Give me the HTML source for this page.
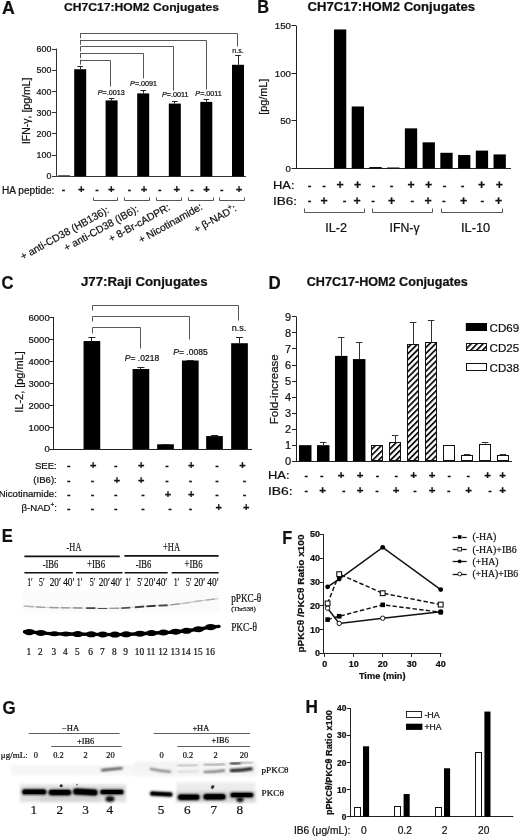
<!DOCTYPE html>
<html lang="en"><head><meta charset="utf-8"><title>Figure</title>
<style>
html,body{margin:0;padding:0;background:#fff}
svg{display:block}
text{stroke:#111;stroke-width:0.22px}
text.s{font-family:"Liberation Sans",Arial,sans-serif}
text.r{font-family:"Liberation Serif","Times New Roman",serif}
</style></head><body>
<svg width="520" height="836" viewBox="0 0 520 836">
<defs>
<pattern id="hatch" patternUnits="userSpaceOnUse" width="4.2" height="4.2" patternTransform="rotate(-45)">
<rect width="4.2" height="4.2" fill="#fff"/><rect y="0" width="4.2" height="1.8" fill="#111"/>
</pattern>
<filter id="b1" x="-20%" y="-100%" width="140%" height="300%"><feGaussianBlur stdDeviation="0.9"/></filter>
<filter id="b2" x="-20%" y="-200%" width="140%" height="500%"><feGaussianBlur stdDeviation="0.6"/></filter>
<filter id="b3" x="-20%" y="-200%" width="140%" height="500%"><feGaussianBlur stdDeviation="1.6"/></filter>
</defs>
<rect width="520" height="836" fill="#fff"/>
<text class="s" x="1.90" y="14.00" font-size="17.5" font-weight="bold" textLength="12.80" lengthAdjust="spacingAndGlyphs" fill="#111" >A</text>
<text class="s" x="64.00" y="10.80" font-size="11.6" font-weight="bold" textLength="155.00" lengthAdjust="spacingAndGlyphs" fill="#111" >CH7C17:HOM2 Conjugates</text>
<line x1="56.50" y1="48.60" x2="56.50" y2="176.80" stroke="#333" stroke-width="1" />
<line x1="56.00" y1="176.50" x2="246.00" y2="176.50" stroke="#333" stroke-width="1" />
<line x1="52.00" y1="176.50" x2="56.00" y2="176.50" stroke="#333" stroke-width="1" />
<text class="s" x="51.40" y="178.60" font-size="8.9" text-anchor="end" fill="#111" >0</text>
<line x1="52.00" y1="155.50" x2="56.00" y2="155.50" stroke="#333" stroke-width="1" />
<text class="s" x="51.40" y="158.20" font-size="8.9" text-anchor="end" fill="#111" >100</text>
<line x1="52.00" y1="133.50" x2="56.00" y2="133.50" stroke="#333" stroke-width="1" />
<text class="s" x="51.40" y="137.00" font-size="8.9" text-anchor="end" fill="#111" >200</text>
<line x1="52.00" y1="112.50" x2="56.00" y2="112.50" stroke="#333" stroke-width="1" />
<text class="s" x="51.40" y="115.80" font-size="8.9" text-anchor="end" fill="#111" >300</text>
<line x1="52.00" y1="91.50" x2="56.00" y2="91.50" stroke="#333" stroke-width="1" />
<text class="s" x="51.40" y="94.60" font-size="8.9" text-anchor="end" fill="#111" >400</text>
<line x1="52.00" y1="70.50" x2="56.00" y2="70.50" stroke="#333" stroke-width="1" />
<text class="s" x="51.40" y="73.40" font-size="8.9" text-anchor="end" fill="#111" >500</text>
<line x1="52.00" y1="49.50" x2="56.00" y2="49.50" stroke="#333" stroke-width="1" />
<text class="s" x="51.40" y="52.20" font-size="8.9" text-anchor="end" fill="#111" >600</text>
<text class="s" x="30.00" y="110.80" font-size="10.7" text-anchor="middle" transform="rotate(-90 30.00 110.80)" textLength="66.50" lengthAdjust="spacingAndGlyphs" fill="#111" >IFN-&#947;, [pg/mL]</text>
<rect x="74.20" y="69.24" width="12.00" height="107.06" fill="#000" />
<line x1="80.50" y1="66.27" x2="80.50" y2="69.24" stroke="#222" stroke-width="1" />
<line x1="77.45" y1="66.50" x2="82.95" y2="66.50" stroke="#222" stroke-width="1" />
<rect x="105.60" y="100.40" width="12.00" height="75.90" fill="#000" />
<line x1="111.50" y1="98.71" x2="111.50" y2="100.40" stroke="#222" stroke-width="1" />
<line x1="108.85" y1="98.50" x2="114.35" y2="98.50" stroke="#222" stroke-width="1" />
<rect x="137.20" y="93.41" width="12.00" height="82.89" fill="#000" />
<line x1="143.50" y1="90.02" x2="143.50" y2="93.41" stroke="#222" stroke-width="1" />
<line x1="140.45" y1="90.50" x2="145.95" y2="90.50" stroke="#222" stroke-width="1" />
<rect x="168.80" y="103.58" width="12.00" height="72.72" fill="#000" />
<line x1="174.50" y1="101.46" x2="174.50" y2="103.58" stroke="#222" stroke-width="1" />
<line x1="172.05" y1="101.50" x2="177.55" y2="101.50" stroke="#222" stroke-width="1" />
<rect x="200.30" y="101.89" width="12.00" height="74.41" fill="#000" />
<line x1="206.50" y1="99.56" x2="206.50" y2="101.89" stroke="#222" stroke-width="1" />
<line x1="203.55" y1="99.50" x2="209.05" y2="99.50" stroke="#222" stroke-width="1" />
<rect x="232.00" y="64.79" width="12.00" height="111.51" fill="#000" />
<line x1="238.50" y1="55.88" x2="238.50" y2="64.79" stroke="#222" stroke-width="1" />
<line x1="235.25" y1="55.50" x2="240.75" y2="55.50" stroke="#222" stroke-width="1" />
<rect x="58.00" y="175.10" width="12.00" height="1.20" fill="#555" />
<line x1="80.50" y1="33.30" x2="80.50" y2="64.80" stroke="#444" stroke-width="0.9" stroke-dasharray="5 1.6"/>
<path d="M80.5 60.5 H110.5 V86.5" fill="none" stroke="#444" stroke-width="0.9" />
<path d="M80.5 53.5 H143.5 V78.5" fill="none" stroke="#444" stroke-width="0.9" />
<path d="M80.5 46.5 H173.5 V90.5" fill="none" stroke="#444" stroke-width="0.9" />
<path d="M80.5 40.5 H206.5 V89.5" fill="none" stroke="#444" stroke-width="0.9" />
<path d="M80.5 33.5 H237.5 V46.5" fill="none" stroke="#444" stroke-width="0.9" />
<text class="s" x="111.30" y="94.80" font-size="7.2" text-anchor="middle" fill="#111"><tspan font-style="italic">P</tspan>=.0013</text>
<text class="s" x="143.60" y="86.20" font-size="7.2" text-anchor="middle" fill="#111"><tspan font-style="italic">P</tspan>=.0091</text>
<text class="s" x="175.20" y="97.00" font-size="7.2" text-anchor="middle" fill="#111"><tspan font-style="italic">P</tspan>=.0011</text>
<text class="s" x="208.60" y="96.00" font-size="7.2" text-anchor="middle" fill="#111"><tspan font-style="italic">P</tspan>=.0011</text>
<text class="s" x="238.00" y="53.20" font-size="7" text-anchor="middle" fill="#222" >n.s.</text>
<text class="s" x="2.00" y="193.50" font-size="10" textLength="52.40" lengthAdjust="spacingAndGlyphs" fill="#111" >HA peptide:</text>
<text class="s" x="63.40" y="193.30" font-size="10.5" text-anchor="middle" font-weight="bold" fill="#111" >-</text>
<text class="s" x="97.10" y="193.30" font-size="10.5" text-anchor="middle" font-weight="bold" fill="#111" >-</text>
<text class="s" x="129.60" y="193.30" font-size="10.5" text-anchor="middle" font-weight="bold" fill="#111" >-</text>
<text class="s" x="159.80" y="193.30" font-size="10.5" text-anchor="middle" font-weight="bold" fill="#111" >-</text>
<text class="s" x="192.10" y="193.30" font-size="10.5" text-anchor="middle" font-weight="bold" fill="#111" >-</text>
<text class="s" x="221.80" y="193.30" font-size="10.5" text-anchor="middle" font-weight="bold" fill="#111" >-</text>
<text class="s" x="81.40" y="193.30" font-size="11.3" text-anchor="middle" font-weight="bold" fill="#111" >+</text>
<text class="s" x="111.30" y="193.30" font-size="11.3" text-anchor="middle" font-weight="bold" fill="#111" >+</text>
<text class="s" x="144.10" y="193.30" font-size="11.3" text-anchor="middle" font-weight="bold" fill="#111" >+</text>
<text class="s" x="176.90" y="193.30" font-size="11.3" text-anchor="middle" font-weight="bold" fill="#111" >+</text>
<text class="s" x="206.60" y="193.30" font-size="11.3" text-anchor="middle" font-weight="bold" fill="#111" >+</text>
<text class="s" x="239.00" y="193.30" font-size="11.3" text-anchor="middle" font-weight="bold" fill="#111" >+</text>
<path d="M93.5 197.5 V200.5 H117.5 V197.5" fill="none" stroke="#444" stroke-width="0.9" />
<path d="M124.5 197.5 V200.5 H149.5 V197.5" fill="none" stroke="#444" stroke-width="0.9" />
<path d="M156.5 197.5 V200.5 H181.5 V197.5" fill="none" stroke="#444" stroke-width="0.9" />
<path d="M188.5 197.5 V200.5 H213.5 V197.5" fill="none" stroke="#444" stroke-width="0.9" />
<path d="M219.5 197.5 V200.5 H244.5 V197.5" fill="none" stroke="#444" stroke-width="0.9" />
<text class="s" x="109.70" y="212.20" font-size="10.3" text-anchor="end" transform="rotate(-29 109.70 212.20)" fill="#111" >+ anti-CD38 (HB136):</text>
<text class="s" x="139.20" y="211.20" font-size="10.3" text-anchor="end" transform="rotate(-29 139.20 211.20)" fill="#111" >+ anti-CD38 (IB6):</text>
<text class="s" x="170.80" y="209.40" font-size="10.3" text-anchor="end" transform="rotate(-29 170.80 209.40)" fill="#111" >+ 8-Br-cADPR:</text>
<text class="s" x="203.30" y="208.90" font-size="10.3" text-anchor="end" transform="rotate(-29 203.30 208.90)" fill="#111" >+ Nicotinamide:</text>
<text class="s" x="237.30" y="210.40" font-size="10.3" text-anchor="end" fill="#111" transform="rotate(-29 237.3 210.4)">+ &#946;-NAD<tspan font-size="7" dy="-4.4">+</tspan><tspan dy="4.4">:</tspan></text>
<text class="s" x="257.20" y="12.50" font-size="17.5" font-weight="bold" textLength="11.80" lengthAdjust="spacingAndGlyphs" fill="#111" >B</text>
<text class="s" x="307.50" y="10.50" font-size="12.5" font-weight="bold" textLength="167.50" lengthAdjust="spacingAndGlyphs" fill="#111" >CH7C17:HOM2 Conjugates</text>
<line x1="296.50" y1="25.60" x2="296.50" y2="168.80" stroke="#222" stroke-width="1" />
<line x1="295.50" y1="168.50" x2="511.00" y2="168.50" stroke="#222" stroke-width="1" />
<line x1="291.50" y1="168.50" x2="296.00" y2="168.50" stroke="#222" stroke-width="1" />
<text class="s" x="291.00" y="171.80" font-size="9.7" text-anchor="end" fill="#111" >0</text>
<line x1="291.50" y1="120.50" x2="296.00" y2="120.50" stroke="#222" stroke-width="1" />
<text class="s" x="291.00" y="124.25" font-size="9.7" text-anchor="end" fill="#111" >50</text>
<line x1="291.50" y1="73.50" x2="296.00" y2="73.50" stroke="#222" stroke-width="1" />
<text class="s" x="291.00" y="76.70" font-size="9.7" text-anchor="end" fill="#111" >100</text>
<line x1="291.50" y1="25.50" x2="296.00" y2="25.50" stroke="#222" stroke-width="1" />
<text class="s" x="291.00" y="29.15" font-size="9.7" text-anchor="end" fill="#111" >150</text>
<text class="s" x="267.20" y="96.70" font-size="10.5" text-anchor="middle" transform="rotate(-90 267.20 96.70)" textLength="36.00" lengthAdjust="spacingAndGlyphs" fill="#111" >[pg/mL]</text>
<rect x="333.96" y="29.45" width="12.30" height="138.85" fill="#000" />
<rect x="351.69" y="106.49" width="12.30" height="61.81" fill="#000" />
<rect x="369.42" y="167.06" width="12.30" height="1.24" fill="#000" />
<rect x="387.15" y="167.50" width="12.30" height="0.80" fill="#000" />
<rect x="404.88" y="128.36" width="12.30" height="39.94" fill="#000" />
<rect x="422.61" y="142.34" width="12.30" height="25.96" fill="#000" />
<rect x="440.34" y="152.80" width="12.30" height="15.50" fill="#000" />
<rect x="458.07" y="154.99" width="12.30" height="13.31" fill="#000" />
<rect x="475.80" y="150.61" width="12.30" height="17.69" fill="#000" />
<rect x="493.53" y="154.42" width="12.30" height="13.88" fill="#000" />
<text class="s" x="273.00" y="189.00" font-size="11.5" textLength="21.50" lengthAdjust="spacingAndGlyphs" fill="#111" >HA:</text>
<text class="s" x="273.00" y="204.50" font-size="11.5" textLength="24.00" lengthAdjust="spacingAndGlyphs" fill="#111" >IB6:</text>
<text class="s" x="309.50" y="188.80" font-size="11" text-anchor="middle" font-weight="bold" fill="#111" >-</text>
<text class="s" x="309.50" y="204.20" font-size="11" text-anchor="middle" font-weight="bold" fill="#111" >-</text>
<text class="s" x="324.20" y="188.80" font-size="11" text-anchor="middle" font-weight="bold" fill="#111" >-</text>
<text class="s" x="324.20" y="204.60" font-size="12.3" text-anchor="middle" font-weight="bold" fill="#111" >+</text>
<text class="s" x="340.00" y="189.20" font-size="12.3" text-anchor="middle" font-weight="bold" fill="#111" >+</text>
<text class="s" x="344.50" y="204.20" font-size="11" text-anchor="middle" font-weight="bold" fill="#111" >-</text>
<text class="s" x="357.50" y="189.20" font-size="12.3" text-anchor="middle" font-weight="bold" fill="#111" >+</text>
<text class="s" x="357.00" y="204.60" font-size="12.3" text-anchor="middle" font-weight="bold" fill="#111" >+</text>
<text class="s" x="373.70" y="188.80" font-size="11" text-anchor="middle" font-weight="bold" fill="#111" >-</text>
<text class="s" x="373.20" y="204.20" font-size="11" text-anchor="middle" font-weight="bold" fill="#111" >-</text>
<text class="s" x="391.60" y="188.80" font-size="11" text-anchor="middle" font-weight="bold" fill="#111" >-</text>
<text class="s" x="391.60" y="204.60" font-size="12.3" text-anchor="middle" font-weight="bold" fill="#111" >+</text>
<text class="s" x="411.00" y="189.20" font-size="12.3" text-anchor="middle" font-weight="bold" fill="#111" >+</text>
<text class="s" x="412.30" y="204.20" font-size="11" text-anchor="middle" font-weight="bold" fill="#111" >-</text>
<text class="s" x="428.50" y="189.20" font-size="12.3" text-anchor="middle" font-weight="bold" fill="#111" >+</text>
<text class="s" x="428.00" y="204.60" font-size="12.3" text-anchor="middle" font-weight="bold" fill="#111" >+</text>
<text class="s" x="444.60" y="188.80" font-size="11" text-anchor="middle" font-weight="bold" fill="#111" >-</text>
<text class="s" x="443.80" y="204.20" font-size="11" text-anchor="middle" font-weight="bold" fill="#111" >-</text>
<text class="s" x="462.70" y="188.80" font-size="11" text-anchor="middle" font-weight="bold" fill="#111" >-</text>
<text class="s" x="463.50" y="204.60" font-size="12.3" text-anchor="middle" font-weight="bold" fill="#111" >+</text>
<text class="s" x="481.50" y="189.20" font-size="12.3" text-anchor="middle" font-weight="bold" fill="#111" >+</text>
<text class="s" x="482.30" y="204.20" font-size="11" text-anchor="middle" font-weight="bold" fill="#111" >-</text>
<text class="s" x="499.30" y="189.20" font-size="12.3" text-anchor="middle" font-weight="bold" fill="#111" >+</text>
<text class="s" x="498.70" y="204.60" font-size="12.3" text-anchor="middle" font-weight="bold" fill="#111" >+</text>
<path d="M304.5 208.5 V212.5 H364.5 V208.5" fill="none" stroke="#444" stroke-width="0.9" />
<path d="M372.5 208.5 V212.5 H432.5 V208.5" fill="none" stroke="#444" stroke-width="0.9" />
<path d="M441.5 208.5 V212.5 H502.5 V208.5" fill="none" stroke="#444" stroke-width="0.9" />
<text class="s" x="336.20" y="232.00" font-size="12" text-anchor="middle" textLength="21.70" lengthAdjust="spacingAndGlyphs" fill="#111" >IL-2</text>
<text class="s" x="404.60" y="232.00" font-size="12" text-anchor="middle" textLength="30.00" lengthAdjust="spacingAndGlyphs" fill="#111" >IFN-&#947;</text>
<text class="s" x="475.60" y="232.00" font-size="12" text-anchor="middle" textLength="29.20" lengthAdjust="spacingAndGlyphs" fill="#111" >IL-10</text>
<text class="s" x="1.60" y="289.00" font-size="17.5" font-weight="bold" textLength="12.00" lengthAdjust="spacingAndGlyphs" fill="#111" >C</text>
<text class="s" x="81.00" y="286.00" font-size="12" font-weight="bold" textLength="126.50" lengthAdjust="spacingAndGlyphs" fill="#111" >J77:Raji Conjugates</text>
<line x1="53.50" y1="317.00" x2="53.50" y2="449.50" stroke="#222" stroke-width="1" />
<line x1="52.50" y1="449.50" x2="252.00" y2="449.50" stroke="#222" stroke-width="1" />
<line x1="49.50" y1="449.50" x2="53.00" y2="449.50" stroke="#222" stroke-width="1" />
<text class="s" x="49.70" y="452.40" font-size="9.6" text-anchor="end" textLength="5.30" lengthAdjust="spacingAndGlyphs" fill="#111" >0</text>
<line x1="49.50" y1="427.50" x2="53.00" y2="427.50" stroke="#222" stroke-width="1" />
<text class="s" x="49.70" y="430.50" font-size="9.6" text-anchor="end" textLength="21.20" lengthAdjust="spacingAndGlyphs" fill="#111" >1000</text>
<line x1="49.50" y1="405.50" x2="53.00" y2="405.50" stroke="#222" stroke-width="1" />
<text class="s" x="49.70" y="408.60" font-size="9.6" text-anchor="end" textLength="21.20" lengthAdjust="spacingAndGlyphs" fill="#111" >2000</text>
<line x1="49.50" y1="383.50" x2="53.00" y2="383.50" stroke="#222" stroke-width="1" />
<text class="s" x="49.70" y="386.70" font-size="9.6" text-anchor="end" textLength="21.20" lengthAdjust="spacingAndGlyphs" fill="#111" >3000</text>
<line x1="49.50" y1="361.50" x2="53.00" y2="361.50" stroke="#222" stroke-width="1" />
<text class="s" x="49.70" y="364.80" font-size="9.6" text-anchor="end" textLength="21.20" lengthAdjust="spacingAndGlyphs" fill="#111" >4000</text>
<line x1="49.50" y1="339.50" x2="53.00" y2="339.50" stroke="#222" stroke-width="1" />
<text class="s" x="49.70" y="342.90" font-size="9.6" text-anchor="end" textLength="21.20" lengthAdjust="spacingAndGlyphs" fill="#111" >5000</text>
<line x1="49.50" y1="317.50" x2="53.00" y2="317.50" stroke="#222" stroke-width="1" />
<text class="s" x="49.70" y="321.00" font-size="9.6" text-anchor="end" textLength="21.20" lengthAdjust="spacingAndGlyphs" fill="#111" >6000</text>
<text class="s" x="23.20" y="382.00" font-size="11" text-anchor="middle" transform="rotate(-90 23.20 382.00)" textLength="61.50" lengthAdjust="spacingAndGlyphs" fill="#111" >IL-2, [pg/mL]</text>
<rect x="83.55" y="341.03" width="16.70" height="107.97" fill="#000" />
<line x1="91.50" y1="337.42" x2="91.50" y2="341.03" stroke="#222" stroke-width="1" />
<line x1="88.40" y1="337.50" x2="95.40" y2="337.50" stroke="#222" stroke-width="1" />
<rect x="132.55" y="369.06" width="16.70" height="79.94" fill="#000" />
<line x1="140.50" y1="367.53" x2="140.50" y2="369.06" stroke="#222" stroke-width="1" />
<line x1="137.40" y1="367.50" x2="144.40" y2="367.50" stroke="#222" stroke-width="1" />
<rect x="157.15" y="444.29" width="16.70" height="4.71" fill="#000" />
<line x1="165.50" y1="444.07" x2="165.50" y2="444.29" stroke="#222" stroke-width="1" />
<line x1="162.00" y1="444.50" x2="169.00" y2="444.50" stroke="#222" stroke-width="1" />
<rect x="181.95" y="360.52" width="16.70" height="88.48" fill="#000" />
<line x1="190.50" y1="360.09" x2="190.50" y2="360.52" stroke="#222" stroke-width="1" />
<line x1="186.80" y1="360.50" x2="193.80" y2="360.50" stroke="#222" stroke-width="1" />
<rect x="206.15" y="436.08" width="16.70" height="12.92" fill="#000" />
<line x1="214.50" y1="435.53" x2="214.50" y2="436.08" stroke="#222" stroke-width="1" />
<line x1="211.00" y1="435.50" x2="218.00" y2="435.50" stroke="#222" stroke-width="1" />
<rect x="231.15" y="343.22" width="16.70" height="105.78" fill="#000" />
<line x1="239.50" y1="337.75" x2="239.50" y2="343.22" stroke="#222" stroke-width="1" />
<line x1="236.00" y1="337.50" x2="243.00" y2="337.50" stroke="#222" stroke-width="1" />
<path d="M92.5 333.5 V327.5 H140.5 V348.5" fill="none" stroke="#444" stroke-width="0.9" />
<path d="M92.5 321.5 V316.5 H189.5 V339.5" fill="none" stroke="#444" stroke-width="0.9" />
<path d="M92.5 310.5 V305.5 H238.5 V320.5" fill="none" stroke="#444" stroke-width="0.9" />
<text class="s" x="142.00" y="361.00" font-size="8.5" text-anchor="middle" fill="#111"><tspan font-style="italic">P</tspan>= .0218</text>
<text class="s" x="190.50" y="355.00" font-size="8.5" text-anchor="middle" fill="#111"><tspan font-style="italic">P</tspan>= .0085</text>
<text class="s" x="239.00" y="331.00" font-size="9" text-anchor="middle" fill="#222" >n.s.</text>
<text class="s" x="56.80" y="468.60" font-size="9.6" text-anchor="end" fill="#111" >SEE:</text>
<text class="s" x="68.70" y="469.20" font-size="10.5" text-anchor="middle" font-weight="bold" fill="#111" >-</text>
<text class="s" x="93.20" y="468.80" font-size="11" text-anchor="middle" font-weight="bold" fill="#111" >+</text>
<text class="s" x="115.70" y="469.20" font-size="10.5" text-anchor="middle" font-weight="bold" fill="#111" >-</text>
<text class="s" x="141.20" y="468.80" font-size="11" text-anchor="middle" font-weight="bold" fill="#111" >+</text>
<text class="s" x="167.00" y="469.20" font-size="10.5" text-anchor="middle" font-weight="bold" fill="#111" >-</text>
<text class="s" x="191.20" y="468.80" font-size="11" text-anchor="middle" font-weight="bold" fill="#111" >+</text>
<text class="s" x="217.00" y="469.20" font-size="10.5" text-anchor="middle" font-weight="bold" fill="#111" >-</text>
<text class="s" x="242.50" y="468.80" font-size="11" text-anchor="middle" font-weight="bold" fill="#111" >+</text>
<text class="s" x="56.80" y="483.40" font-size="9.6" text-anchor="end" fill="#111" >(IB6):</text>
<text class="s" x="68.70" y="484.00" font-size="10.5" text-anchor="middle" font-weight="bold" fill="#111" >-</text>
<text class="s" x="92.50" y="484.00" font-size="10.5" text-anchor="middle" font-weight="bold" fill="#111" >-</text>
<text class="s" x="117.00" y="483.60" font-size="11" text-anchor="middle" font-weight="bold" fill="#111" >+</text>
<text class="s" x="141.20" y="483.60" font-size="11" text-anchor="middle" font-weight="bold" fill="#111" >+</text>
<text class="s" x="167.00" y="484.00" font-size="10.5" text-anchor="middle" font-weight="bold" fill="#111" >-</text>
<text class="s" x="190.50" y="484.00" font-size="10.5" text-anchor="middle" font-weight="bold" fill="#111" >-</text>
<text class="s" x="217.00" y="484.00" font-size="10.5" text-anchor="middle" font-weight="bold" fill="#111" >-</text>
<text class="s" x="244.50" y="484.00" font-size="10.5" text-anchor="middle" font-weight="bold" fill="#111" >-</text>
<text class="s" x="56.80" y="497.30" font-size="9.6" text-anchor="end" fill="#111" >Nicotinamide:</text>
<text class="s" x="68.70" y="497.90" font-size="10.5" text-anchor="middle" font-weight="bold" fill="#111" >-</text>
<text class="s" x="92.50" y="497.90" font-size="10.5" text-anchor="middle" font-weight="bold" fill="#111" >-</text>
<text class="s" x="115.70" y="497.90" font-size="10.5" text-anchor="middle" font-weight="bold" fill="#111" >-</text>
<text class="s" x="143.00" y="497.90" font-size="10.5" text-anchor="middle" font-weight="bold" fill="#111" >-</text>
<text class="s" x="168.00" y="497.50" font-size="11" text-anchor="middle" font-weight="bold" fill="#111" >+</text>
<text class="s" x="191.20" y="497.50" font-size="11" text-anchor="middle" font-weight="bold" fill="#111" >+</text>
<text class="s" x="217.00" y="497.90" font-size="10.5" text-anchor="middle" font-weight="bold" fill="#111" >-</text>
<text class="s" x="244.50" y="497.90" font-size="10.5" text-anchor="middle" font-weight="bold" fill="#111" >-</text>
<text class="s" x="57.00" y="511.20" font-size="9.6" text-anchor="end" fill="#111">&#946;-NAD<tspan font-size="6.5" dy="-4">+</tspan><tspan dy="4">:</tspan></text>
<text class="s" x="68.70" y="511.80" font-size="10.5" text-anchor="middle" font-weight="bold" fill="#111" >-</text>
<text class="s" x="92.50" y="511.80" font-size="10.5" text-anchor="middle" font-weight="bold" fill="#111" >-</text>
<text class="s" x="115.70" y="511.80" font-size="10.5" text-anchor="middle" font-weight="bold" fill="#111" >-</text>
<text class="s" x="143.00" y="511.80" font-size="10.5" text-anchor="middle" font-weight="bold" fill="#111" >-</text>
<text class="s" x="170.00" y="511.80" font-size="10.5" text-anchor="middle" font-weight="bold" fill="#111" >-</text>
<text class="s" x="190.50" y="511.80" font-size="10.5" text-anchor="middle" font-weight="bold" fill="#111" >-</text>
<text class="s" x="218.70" y="511.40" font-size="11" text-anchor="middle" font-weight="bold" fill="#111" >+</text>
<text class="s" x="246.20" y="511.40" font-size="11" text-anchor="middle" font-weight="bold" fill="#111" >+</text>
<text class="s" x="268.60" y="289.30" font-size="17.5" font-weight="bold" textLength="12.20" lengthAdjust="spacingAndGlyphs" fill="#111" >D</text>
<text class="s" x="306.70" y="286.00" font-size="12.3" font-weight="bold" textLength="161.00" lengthAdjust="spacingAndGlyphs" fill="#111" >CH7C17-HOM2 Conjugates</text>
<line x1="296.50" y1="316.40" x2="296.50" y2="461.70" stroke="#222" stroke-width="1" />
<line x1="295.50" y1="461.50" x2="512.00" y2="461.50" stroke="#222" stroke-width="1" />
<line x1="292.00" y1="461.50" x2="296.00" y2="461.50" stroke="#222" stroke-width="1" />
<text class="s" x="291.20" y="465.00" font-size="11" text-anchor="end" fill="#111" >0</text>
<line x1="292.00" y1="445.50" x2="296.00" y2="445.50" stroke="#222" stroke-width="1" />
<text class="s" x="291.20" y="448.97" font-size="11" text-anchor="end" fill="#111" >1</text>
<line x1="292.00" y1="429.50" x2="296.00" y2="429.50" stroke="#222" stroke-width="1" />
<text class="s" x="291.20" y="432.94" font-size="11" text-anchor="end" fill="#111" >2</text>
<line x1="292.00" y1="413.50" x2="296.00" y2="413.50" stroke="#222" stroke-width="1" />
<text class="s" x="291.20" y="416.91" font-size="11" text-anchor="end" fill="#111" >3</text>
<line x1="292.00" y1="397.50" x2="296.00" y2="397.50" stroke="#222" stroke-width="1" />
<text class="s" x="291.20" y="400.88" font-size="11" text-anchor="end" fill="#111" >4</text>
<line x1="292.00" y1="381.50" x2="296.00" y2="381.50" stroke="#222" stroke-width="1" />
<text class="s" x="291.20" y="384.85" font-size="11" text-anchor="end" fill="#111" >5</text>
<line x1="292.00" y1="365.50" x2="296.00" y2="365.50" stroke="#222" stroke-width="1" />
<text class="s" x="291.20" y="368.82" font-size="11" text-anchor="end" fill="#111" >6</text>
<line x1="292.00" y1="348.50" x2="296.00" y2="348.50" stroke="#222" stroke-width="1" />
<text class="s" x="291.20" y="352.79" font-size="11" text-anchor="end" fill="#111" >7</text>
<line x1="292.00" y1="332.50" x2="296.00" y2="332.50" stroke="#222" stroke-width="1" />
<text class="s" x="291.20" y="336.76" font-size="11" text-anchor="end" fill="#111" >8</text>
<line x1="292.00" y1="316.50" x2="296.00" y2="316.50" stroke="#222" stroke-width="1" />
<text class="s" x="291.20" y="320.73" font-size="11" text-anchor="end" fill="#111" >9</text>
<text class="s" x="278.30" y="389.20" font-size="11.5" text-anchor="middle" transform="rotate(-90 278.30 389.20)" textLength="70.00" lengthAdjust="spacingAndGlyphs" fill="#111" >Fold-increase</text>
<rect x="299.00" y="445.17" width="12.50" height="16.03" fill="#000" />
<rect x="316.98" y="445.17" width="12.50" height="16.03" fill="#000" />
<line x1="323.50" y1="442.61" x2="323.50" y2="445.17" stroke="#333" stroke-width="1" />
<line x1="319.98" y1="442.50" x2="326.48" y2="442.50" stroke="#333" stroke-width="1" />
<rect x="334.96" y="355.88" width="12.50" height="105.32" fill="#000" />
<line x1="341.50" y1="337.45" x2="341.50" y2="355.88" stroke="#333" stroke-width="1" />
<line x1="337.96" y1="337.50" x2="344.46" y2="337.50" stroke="#333" stroke-width="1" />
<rect x="352.94" y="359.09" width="12.50" height="102.11" fill="#000" />
<line x1="359.50" y1="342.26" x2="359.50" y2="359.09" stroke="#333" stroke-width="1" />
<line x1="355.94" y1="342.50" x2="362.44" y2="342.50" stroke="#333" stroke-width="1" />
<rect x="371.50" y="445.50" width="11.00" height="15.00" fill="url(#hatch)" stroke="#111" stroke-width="1" />
<rect x="389.50" y="442.50" width="11.00" height="18.00" fill="url(#hatch)" stroke="#111" stroke-width="1" />
<line x1="395.50" y1="435.71" x2="395.50" y2="442.44" stroke="#333" stroke-width="1" />
<line x1="391.90" y1="435.50" x2="398.40" y2="435.50" stroke="#333" stroke-width="1" />
<rect x="407.50" y="344.50" width="11.00" height="116.00" fill="url(#hatch)" stroke="#111" stroke-width="1" />
<line x1="413.50" y1="322.38" x2="413.50" y2="344.02" stroke="#333" stroke-width="1" />
<line x1="409.88" y1="322.50" x2="416.38" y2="322.50" stroke="#333" stroke-width="1" />
<rect x="425.50" y="342.50" width="11.00" height="118.00" fill="url(#hatch)" stroke="#111" stroke-width="1" />
<line x1="431.50" y1="320.62" x2="431.50" y2="342.26" stroke="#333" stroke-width="1" />
<line x1="427.86" y1="320.50" x2="434.36" y2="320.50" stroke="#333" stroke-width="1" />
<rect x="443.50" y="445.50" width="11.00" height="15.00" fill="#fff" stroke="#111" stroke-width="1" />
<rect x="461.50" y="455.50" width="11.00" height="5.00" fill="#fff" stroke="#111" stroke-width="1" />
<line x1="467.50" y1="454.79" x2="467.50" y2="455.43" stroke="#333" stroke-width="1" />
<line x1="463.82" y1="454.50" x2="470.32" y2="454.50" stroke="#333" stroke-width="1" />
<rect x="479.50" y="444.50" width="11.00" height="16.00" fill="#fff" stroke="#111" stroke-width="1" />
<line x1="485.50" y1="442.77" x2="485.50" y2="443.57" stroke="#333" stroke-width="1" />
<line x1="481.80" y1="442.50" x2="488.30" y2="442.50" stroke="#333" stroke-width="1" />
<rect x="497.50" y="455.50" width="11.00" height="5.00" fill="#fff" stroke="#111" stroke-width="1" />
<line x1="503.50" y1="454.79" x2="503.50" y2="455.43" stroke="#333" stroke-width="1" />
<line x1="499.78" y1="454.50" x2="506.28" y2="454.50" stroke="#333" stroke-width="1" />
<text class="s" x="268.00" y="479.00" font-size="11.3" textLength="21.50" lengthAdjust="spacingAndGlyphs" fill="#111" >HA:</text>
<text class="s" x="268.00" y="494.60" font-size="11.3" textLength="24.70" lengthAdjust="spacingAndGlyphs" fill="#111" >IB6:</text>
<text class="s" x="306.20" y="479.40" font-size="10.5" text-anchor="middle" font-weight="bold" fill="#111" >-</text>
<text class="s" x="306.20" y="494.40" font-size="10.5" text-anchor="middle" font-weight="bold" fill="#111" >-</text>
<text class="s" x="321.70" y="479.40" font-size="10.5" text-anchor="middle" font-weight="bold" fill="#111" >-</text>
<text class="s" x="322.50" y="494.40" font-size="11.5" text-anchor="middle" font-weight="bold" fill="#111" >+</text>
<text class="s" x="341.20" y="479.40" font-size="11.5" text-anchor="middle" font-weight="bold" fill="#111" >+</text>
<text class="s" x="343.70" y="494.40" font-size="10.5" text-anchor="middle" font-weight="bold" fill="#111" >-</text>
<text class="s" x="360.00" y="479.40" font-size="11.5" text-anchor="middle" font-weight="bold" fill="#111" >+</text>
<text class="s" x="360.00" y="494.40" font-size="11.5" text-anchor="middle" font-weight="bold" fill="#111" >+</text>
<text class="s" x="377.50" y="479.40" font-size="10.5" text-anchor="middle" font-weight="bold" fill="#111" >-</text>
<text class="s" x="377.00" y="494.40" font-size="10.5" text-anchor="middle" font-weight="bold" fill="#111" >-</text>
<text class="s" x="396.20" y="479.40" font-size="10.5" text-anchor="middle" font-weight="bold" fill="#111" >-</text>
<text class="s" x="396.20" y="494.40" font-size="11.5" text-anchor="middle" font-weight="bold" fill="#111" >+</text>
<text class="s" x="413.70" y="479.40" font-size="11.5" text-anchor="middle" font-weight="bold" fill="#111" >+</text>
<text class="s" x="415.00" y="494.40" font-size="10.5" text-anchor="middle" font-weight="bold" fill="#111" >-</text>
<text class="s" x="432.00" y="479.40" font-size="11.5" text-anchor="middle" font-weight="bold" fill="#111" >+</text>
<text class="s" x="432.00" y="494.40" font-size="11.5" text-anchor="middle" font-weight="bold" fill="#111" >+</text>
<text class="s" x="449.20" y="479.40" font-size="10.5" text-anchor="middle" font-weight="bold" fill="#111" >-</text>
<text class="s" x="448.70" y="494.40" font-size="10.5" text-anchor="middle" font-weight="bold" fill="#111" >-</text>
<text class="s" x="468.20" y="479.40" font-size="10.5" text-anchor="middle" font-weight="bold" fill="#111" >-</text>
<text class="s" x="468.70" y="494.40" font-size="11.5" text-anchor="middle" font-weight="bold" fill="#111" >+</text>
<text class="s" x="487.50" y="479.40" font-size="11.5" text-anchor="middle" font-weight="bold" fill="#111" >+</text>
<text class="s" x="490.00" y="494.40" font-size="10.5" text-anchor="middle" font-weight="bold" fill="#111" >-</text>
<text class="s" x="502.50" y="479.40" font-size="11.5" text-anchor="middle" font-weight="bold" fill="#111" >+</text>
<text class="s" x="502.50" y="494.40" font-size="11.5" text-anchor="middle" font-weight="bold" fill="#111" >+</text>
<rect x="465.80" y="323.00" width="21.20" height="8.00" fill="#000" />
<rect x="466.50" y="343.50" width="20.00" height="7.00" fill="url(#hatch)" stroke="#111" stroke-width="1" />
<rect x="466.50" y="363.50" width="20.00" height="7.00" fill="#fff" stroke="#111" stroke-width="1" />
<text class="s" x="489.60" y="331.60" font-size="11.3" textLength="29.50" lengthAdjust="spacingAndGlyphs" fill="#111" >CD69</text>
<text class="s" x="489.60" y="351.60" font-size="11.3" textLength="29.50" lengthAdjust="spacingAndGlyphs" fill="#111" >CD25</text>
<text class="s" x="489.60" y="372.40" font-size="11.3" textLength="29.50" lengthAdjust="spacingAndGlyphs" fill="#111" >CD38</text>
<text class="s" x="1.80" y="541.50" font-size="17.5" font-weight="bold" textLength="11.00" lengthAdjust="spacingAndGlyphs" fill="#111" >E</text>
<text class="r" x="74.00" y="550.50" font-size="11.5" text-anchor="middle" textLength="14.80" lengthAdjust="spacingAndGlyphs" fill="#111" >-HA</text>
<text class="r" x="171.50" y="550.50" font-size="11.5" text-anchor="middle" textLength="17.00" lengthAdjust="spacingAndGlyphs" fill="#111" >+HA</text>
<line x1="24.40" y1="556.30" x2="119.80" y2="556.30" stroke="#111" stroke-width="1.7" />
<line x1="124.40" y1="555.90" x2="218.60" y2="555.90" stroke="#111" stroke-width="1.7" />
<text class="r" x="50.50" y="568.30" font-size="11.5" text-anchor="middle" textLength="15.60" lengthAdjust="spacingAndGlyphs" fill="#111" >-IB6</text>
<text class="r" x="96.00" y="568.30" font-size="11.5" text-anchor="middle" textLength="18.00" lengthAdjust="spacingAndGlyphs" fill="#111" >+IB6</text>
<text class="r" x="143.50" y="568.30" font-size="11.5" text-anchor="middle" textLength="15.60" lengthAdjust="spacingAndGlyphs" fill="#111" >-IB6</text>
<text class="r" x="193.50" y="568.30" font-size="11.5" text-anchor="middle" textLength="18.00" lengthAdjust="spacingAndGlyphs" fill="#111" >+IB6</text>
<line x1="24.40" y1="572.80" x2="72.80" y2="572.80" stroke="#111" stroke-width="1.6" />
<line x1="76.00" y1="572.80" x2="122.50" y2="572.80" stroke="#111" stroke-width="1.6" />
<line x1="124.60" y1="572.80" x2="167.70" y2="572.80" stroke="#111" stroke-width="1.6" />
<line x1="171.70" y1="572.80" x2="218.60" y2="572.80" stroke="#111" stroke-width="1.6" />
<text class="r" x="30.00" y="586.00" font-size="12.4" text-anchor="middle" textLength="5.60" lengthAdjust="spacingAndGlyphs" fill="#111" >1&#8242;</text>
<text class="r" x="41.80" y="586.00" font-size="12.4" text-anchor="middle" textLength="5.60" lengthAdjust="spacingAndGlyphs" fill="#111" >5&#8242;</text>
<text class="r" x="55.40" y="586.00" font-size="12.4" text-anchor="middle" textLength="11.40" lengthAdjust="spacingAndGlyphs" fill="#111" >20&#8242;</text>
<text class="r" x="68.90" y="586.00" font-size="12.4" text-anchor="middle" textLength="11.40" lengthAdjust="spacingAndGlyphs" fill="#111" >40&#8242;</text>
<text class="r" x="79.60" y="586.00" font-size="12.4" text-anchor="middle" textLength="5.60" lengthAdjust="spacingAndGlyphs" fill="#111" >1&#8242;</text>
<text class="r" x="92.50" y="586.00" font-size="12.4" text-anchor="middle" textLength="5.60" lengthAdjust="spacingAndGlyphs" fill="#111" >5&#8242;</text>
<text class="r" x="104.40" y="586.00" font-size="12.4" text-anchor="middle" textLength="11.40" lengthAdjust="spacingAndGlyphs" fill="#111" >20&#8242;</text>
<text class="r" x="116.40" y="586.00" font-size="12.4" text-anchor="middle" textLength="11.40" lengthAdjust="spacingAndGlyphs" fill="#111" >40&#8242;</text>
<text class="r" x="128.00" y="586.00" font-size="12.4" text-anchor="middle" textLength="5.60" lengthAdjust="spacingAndGlyphs" fill="#111" >1&#8242;</text>
<text class="r" x="140.00" y="586.00" font-size="12.4" text-anchor="middle" textLength="5.60" lengthAdjust="spacingAndGlyphs" fill="#111" >5&#8242;</text>
<text class="r" x="149.80" y="586.00" font-size="12.4" text-anchor="middle" textLength="11.40" lengthAdjust="spacingAndGlyphs" fill="#111" >20&#8242;</text>
<text class="r" x="161.70" y="586.00" font-size="12.4" text-anchor="middle" textLength="11.40" lengthAdjust="spacingAndGlyphs" fill="#111" >40&#8242;</text>
<text class="r" x="176.50" y="586.00" font-size="12.4" text-anchor="middle" textLength="5.60" lengthAdjust="spacingAndGlyphs" fill="#111" >1&#8242;</text>
<text class="r" x="188.70" y="586.00" font-size="12.4" text-anchor="middle" textLength="5.60" lengthAdjust="spacingAndGlyphs" fill="#111" >5&#8242;</text>
<text class="r" x="199.60" y="586.00" font-size="12.4" text-anchor="middle" textLength="11.40" lengthAdjust="spacingAndGlyphs" fill="#111" >20&#8242;</text>
<text class="r" x="213.00" y="586.00" font-size="12.4" text-anchor="middle" textLength="11.40" lengthAdjust="spacingAndGlyphs" fill="#111" >40&#8242;</text>
<rect x="23.00" y="591.00" width="196.00" height="22.00" fill="#fafafa" filter="url(#b3)"/>
<path d="M23.0 606.0 L40.0 607.2 L60.0 607.8 L80.0 608.0 L100.0 608.2 L112.0 608.4 L125.0 608.0 L140.0 606.8 L155.0 605.8 L168.0 605.2 L185.0 603.2 L200.0 600.8 L218.5 598.6" fill="none" stroke="#cfcfcf" stroke-width="1.1" filter="url(#b2)"/>
<path d="M24.4 606.1 L33.4 606.7" fill="none" stroke="#aaa" stroke-width="1.4" filter="url(#b2)"/>
<path d="M36.0 606.9 L45.0 607.4" fill="none" stroke="#999" stroke-width="1.4" filter="url(#b2)"/>
<path d="M49.4 607.5 L58.4 607.8" fill="none" stroke="#9a9a9a" stroke-width="1.4" filter="url(#b2)"/>
<path d="M61.0 607.8 L70.0 607.9" fill="none" stroke="#999" stroke-width="1.4" filter="url(#b2)"/>
<path d="M72.9 607.9 L81.9 608.0" fill="none" stroke="#888" stroke-width="1.4" filter="url(#b2)"/>
<path d="M86.3 608.1 L95.3 608.2" fill="none" stroke="#444" stroke-width="1.9" filter="url(#b2)"/>
<path d="M97.9 608.2 L106.9 608.3" fill="none" stroke="#484848" stroke-width="1.9" filter="url(#b2)"/>
<path d="M110.0 608.4 L119.0 608.2" fill="none" stroke="#9a9a9a" stroke-width="1.4" filter="url(#b2)"/>
<path d="M121.3 608.1 L130.3 607.6" fill="none" stroke="#555" stroke-width="1.9" filter="url(#b2)"/>
<path d="M135.0 607.2 L144.0 606.5" fill="none" stroke="#444" stroke-width="1.9" filter="url(#b2)"/>
<path d="M146.6 606.4 L155.6 605.8" fill="none" stroke="#333" stroke-width="1.9" filter="url(#b2)"/>
<path d="M158.6 605.6 L167.6 605.2" fill="none" stroke="#444" stroke-width="1.9" filter="url(#b2)"/>
<path d="M170.8 604.9 L179.8 603.8" fill="none" stroke="#999" stroke-width="1.4" filter="url(#b2)"/>
<path d="M181.6 603.6 L190.6 602.3" fill="none" stroke="#bbb" stroke-width="1.4" filter="url(#b2)"/>
<path d="M193.6 601.8 L202.6 600.5" fill="none" stroke="#bbb" stroke-width="1.4" filter="url(#b2)"/>
<path d="M205.8 600.1 L214.8 599.0" fill="none" stroke="#aaa" stroke-width="1.4" filter="url(#b2)"/>
<path d="M24.5 631.8 L35.0 632.4 L50.0 633.6 L70.0 634.0 L95.0 634.4 L115.0 634.6 L130.0 634.2 L150.0 633.2 L170.0 632.2 L185.0 631.0 L200.0 629.0 L210.0 627.2 L219.0 626.4" fill="none" stroke="#000" stroke-width="3.4" stroke-linecap="round" filter="url(#b2)"/>
<ellipse cx="29.3" cy="632.1" rx="5.6" ry="3.2" fill="#000" filter="url(#b2)"/>
<ellipse cx="40.9" cy="632.9" rx="5.6" ry="3.0" fill="#000" filter="url(#b2)"/>
<ellipse cx="54.3" cy="633.7" rx="5.6" ry="2.5" fill="#000" filter="url(#b2)"/>
<ellipse cx="65.9" cy="633.9" rx="5.6" ry="2.5" fill="#000" filter="url(#b2)"/>
<ellipse cx="77.8" cy="634.1" rx="5.6" ry="3.0" fill="#000" filter="url(#b2)"/>
<ellipse cx="91.2" cy="634.3" rx="5.6" ry="3.0" fill="#000" filter="url(#b2)"/>
<ellipse cx="102.8" cy="634.5" rx="5.6" ry="3.0" fill="#000" filter="url(#b2)"/>
<ellipse cx="114.9" cy="634.6" rx="5.6" ry="3.0" fill="#000" filter="url(#b2)"/>
<ellipse cx="126.2" cy="634.3" rx="5.6" ry="3.0" fill="#000" filter="url(#b2)"/>
<ellipse cx="139.9" cy="633.7" rx="5.6" ry="3.0" fill="#000" filter="url(#b2)"/>
<ellipse cx="151.5" cy="633.1" rx="5.6" ry="3.0" fill="#000" filter="url(#b2)"/>
<ellipse cx="163.5" cy="632.5" rx="5.6" ry="3.0" fill="#000" filter="url(#b2)"/>
<ellipse cx="175.7" cy="631.7" rx="5.6" ry="3.0" fill="#000" filter="url(#b2)"/>
<ellipse cx="186.5" cy="630.8" rx="5.6" ry="3.0" fill="#000" filter="url(#b2)"/>
<ellipse cx="198.5" cy="629.2" rx="5.6" ry="3.0" fill="#000" filter="url(#b2)"/>
<ellipse cx="210.7" cy="627.1" rx="5.6" ry="3.2" fill="#000" filter="url(#b2)"/>
<text class="r" x="28.80" y="655.20" font-size="9.3" text-anchor="middle" fill="#111" >1</text>
<text class="r" x="40.40" y="655.20" font-size="9.3" text-anchor="middle" fill="#111" >2</text>
<text class="r" x="53.80" y="655.20" font-size="9.3" text-anchor="middle" fill="#111" >3</text>
<text class="r" x="65.40" y="655.20" font-size="9.3" text-anchor="middle" fill="#111" >4</text>
<text class="r" x="77.30" y="655.20" font-size="9.3" text-anchor="middle" fill="#111" >5</text>
<text class="r" x="90.70" y="655.20" font-size="9.3" text-anchor="middle" fill="#111" >6</text>
<text class="r" x="102.30" y="655.20" font-size="9.3" text-anchor="middle" fill="#111" >7</text>
<text class="r" x="114.40" y="655.20" font-size="9.3" text-anchor="middle" fill="#111" >8</text>
<text class="r" x="125.70" y="655.20" font-size="9.3" text-anchor="middle" fill="#111" >9</text>
<text class="r" x="139.40" y="655.20" font-size="9.3" text-anchor="middle" fill="#111" >10</text>
<text class="r" x="151.00" y="655.20" font-size="9.3" text-anchor="middle" fill="#111" >11</text>
<text class="r" x="163.00" y="655.20" font-size="9.3" text-anchor="middle" fill="#111" >12</text>
<text class="r" x="175.20" y="655.20" font-size="9.3" text-anchor="middle" fill="#111" >13</text>
<text class="r" x="186.00" y="655.20" font-size="9.3" text-anchor="middle" fill="#111" >14</text>
<text class="r" x="198.00" y="655.20" font-size="9.3" text-anchor="middle" fill="#111" >15</text>
<text class="r" x="210.20" y="655.20" font-size="9.3" text-anchor="middle" fill="#111" >16</text>
<text class="r" x="231.20" y="601.80" font-size="11.6" textLength="30.00" lengthAdjust="spacingAndGlyphs" fill="#111" >pPKC-&#952;</text>
<text class="r" x="231.20" y="611.10" font-size="6.8" textLength="24.60" lengthAdjust="spacingAndGlyphs" fill="#111" >(Thr538)</text>
<text class="r" x="231.20" y="631.20" font-size="11.6" textLength="25.70" lengthAdjust="spacingAndGlyphs" fill="#111" >PKC-&#952;</text>
<text class="s" x="282.30" y="543.50" font-size="17.5" font-weight="bold" textLength="10.00" lengthAdjust="spacingAndGlyphs" fill="#111" >F</text>
<line x1="323.50" y1="534.00" x2="323.50" y2="653.90" stroke="#222" stroke-width="1" />
<line x1="322.70" y1="653.50" x2="441.50" y2="653.50" stroke="#222" stroke-width="1" />
<line x1="319.70" y1="653.50" x2="323.20" y2="653.50" stroke="#222" stroke-width="1" />
<text class="s" x="319.90" y="656.40" font-size="9" text-anchor="end" font-weight="bold" fill="#111" >0</text>
<line x1="319.70" y1="629.50" x2="323.20" y2="629.50" stroke="#222" stroke-width="1" />
<text class="s" x="319.90" y="632.60" font-size="9" text-anchor="end" font-weight="bold" fill="#111" >10</text>
<line x1="319.70" y1="605.50" x2="323.20" y2="605.50" stroke="#222" stroke-width="1" />
<text class="s" x="319.90" y="608.80" font-size="9" text-anchor="end" font-weight="bold" fill="#111" >20</text>
<line x1="319.70" y1="582.50" x2="323.20" y2="582.50" stroke="#222" stroke-width="1" />
<text class="s" x="319.90" y="585.00" font-size="9" text-anchor="end" font-weight="bold" fill="#111" >30</text>
<line x1="319.70" y1="558.50" x2="323.20" y2="558.50" stroke="#222" stroke-width="1" />
<text class="s" x="319.90" y="561.20" font-size="9" text-anchor="end" font-weight="bold" fill="#111" >40</text>
<line x1="319.70" y1="534.50" x2="323.20" y2="534.50" stroke="#222" stroke-width="1" />
<text class="s" x="319.90" y="537.40" font-size="9" text-anchor="end" font-weight="bold" fill="#111" >50</text>
<line x1="324.50" y1="653.40" x2="324.50" y2="656.90" stroke="#222" stroke-width="1" />
<text class="s" x="324.70" y="666.80" font-size="9" text-anchor="middle" font-weight="bold" fill="#111" >0</text>
<line x1="353.50" y1="653.40" x2="353.50" y2="656.90" stroke="#222" stroke-width="1" />
<text class="s" x="353.70" y="666.80" font-size="9" text-anchor="middle" font-weight="bold" fill="#111" >10</text>
<line x1="382.50" y1="653.40" x2="382.50" y2="656.90" stroke="#222" stroke-width="1" />
<text class="s" x="382.70" y="666.80" font-size="9" text-anchor="middle" font-weight="bold" fill="#111" >20</text>
<line x1="411.50" y1="653.40" x2="411.50" y2="656.90" stroke="#222" stroke-width="1" />
<text class="s" x="411.70" y="666.80" font-size="9" text-anchor="middle" font-weight="bold" fill="#111" >30</text>
<line x1="440.50" y1="653.40" x2="440.50" y2="656.90" stroke="#222" stroke-width="1" />
<text class="s" x="440.70" y="666.80" font-size="9" text-anchor="middle" font-weight="bold" fill="#111" >40</text>
<text class="s" x="382.20" y="679.40" font-size="9.4" text-anchor="middle" font-weight="bold" textLength="46.60" lengthAdjust="spacingAndGlyphs" fill="#111" >Time (min)</text>
<text class="s" x="304.40" y="593.50" font-size="9.3" text-anchor="middle" font-weight="bold" transform="rotate(-90 304.40 593.50)" textLength="118.00" lengthAdjust="spacingAndGlyphs" fill="#111" >pPKC&#952; /PKC&#952; Ratio x100</text>
<path d="M327.6 586.8 L339.2 579.1 L382.7 547.3 L440.7 589.6" fill="none" stroke="#111" stroke-width="1.45" />
<path d="M327.6 608.2 L339.2 623.4 L382.7 618.2 L440.7 611.8" fill="none" stroke="#111" stroke-width="1.45" />
<path d="M327.6 603.4 L339.2 574.1 L382.7 593.2 L440.7 604.6" fill="none" stroke="#111" stroke-width="1.45" stroke-dasharray="4.4 2.3"/>
<path d="M327.6 619.6 L339.2 616.3 L382.7 604.8 L440.7 612.2" fill="none" stroke="#111" stroke-width="1.45" stroke-dasharray="4.4 2.3"/>
<circle cx="327.6" cy="586.8" r="2.4" fill="#000"/>
<circle cx="339.2" cy="579.1" r="2.4" fill="#000"/>
<circle cx="382.7" cy="547.3" r="2.4" fill="#000"/>
<circle cx="440.7" cy="589.6" r="2.4" fill="#000"/>
<circle cx="327.6" cy="608.2" r="2.2" fill="#fff" stroke="#111" stroke-width="1"/>
<circle cx="339.2" cy="623.4" r="2.2" fill="#fff" stroke="#111" stroke-width="1"/>
<circle cx="382.7" cy="618.2" r="2.2" fill="#fff" stroke="#111" stroke-width="1"/>
<circle cx="440.7" cy="611.8" r="2.2" fill="#fff" stroke="#111" stroke-width="1"/>
<rect x="325.20" y="601.02" width="4.80" height="4.80" fill="#fff" stroke="#111" stroke-width="1.1" />
<rect x="336.80" y="571.75" width="4.80" height="4.80" fill="#fff" stroke="#111" stroke-width="1.1" />
<rect x="380.30" y="590.79" width="4.80" height="4.80" fill="#fff" stroke="#111" stroke-width="1.1" />
<rect x="438.30" y="602.21" width="4.80" height="4.80" fill="#fff" stroke="#111" stroke-width="1.1" />
<rect x="325.30" y="617.30" width="4.60" height="4.60" fill="#000" />
<rect x="336.90" y="613.97" width="4.60" height="4.60" fill="#000" />
<rect x="380.40" y="602.55" width="4.60" height="4.60" fill="#000" />
<rect x="438.40" y="609.93" width="4.60" height="4.60" fill="#000" />
<line x1="452.70" y1="537.50" x2="457.30" y2="537.50" stroke="#111" stroke-width="1.3" />
<line x1="462.10" y1="537.50" x2="466.70" y2="537.50" stroke="#111" stroke-width="1.3" />
<rect x="457.90" y="535.20" width="3.60" height="3.60" fill="#000" />
<text class="r" x="472.40" y="540.40" font-size="10.6" textLength="24.00" lengthAdjust="spacingAndGlyphs" fill="#111" >(-HA)</text>
<line x1="452.70" y1="549.50" x2="457.30" y2="549.50" stroke="#111" stroke-width="1.3" />
<line x1="462.10" y1="549.50" x2="466.70" y2="549.50" stroke="#111" stroke-width="1.3" />
<rect x="457.90" y="547.40" width="3.60" height="3.60" fill="#fff" stroke="#111" stroke-width="0.9" />
<text class="r" x="472.40" y="552.60" font-size="10.6" textLength="44.20" lengthAdjust="spacingAndGlyphs" fill="#111" >(-HA)+IB6</text>
<line x1="452.70" y1="561.50" x2="466.70" y2="561.50" stroke="#111" stroke-width="1.3" />
<circle cx="459.7" cy="561.3" r="1.9" fill="#000"/>
<text class="r" x="472.40" y="564.70" font-size="10.6" textLength="26.10" lengthAdjust="spacingAndGlyphs" fill="#111" >(+HA)</text>
<line x1="452.70" y1="574.50" x2="466.70" y2="574.50" stroke="#111" stroke-width="1.3" />
<circle cx="459.7" cy="574.0" r="1.9" fill="#fff" stroke="#111" stroke-width="0.9"/>
<text class="r" x="472.40" y="577.40" font-size="10.6" textLength="45.80" lengthAdjust="spacingAndGlyphs" fill="#111" >(+HA)+IB6</text>
<text class="s" x="2.60" y="713.60" font-size="17.5" font-weight="bold" textLength="13.20" lengthAdjust="spacingAndGlyphs" fill="#111" >G</text>
<text class="r" x="70.60" y="731.20" font-size="8.6" text-anchor="middle" fill="#111" >&#8722;HA</text>
<text class="r" x="200.80" y="731.20" font-size="8.4" text-anchor="middle" fill="#111" >+HA</text>
<line x1="28.70" y1="733.50" x2="119.50" y2="733.50" stroke="#333" stroke-width="0.8" />
<line x1="153.70" y1="733.50" x2="250.00" y2="733.50" stroke="#333" stroke-width="0.8" />
<text class="r" x="85.60" y="743.60" font-size="8.4" text-anchor="middle" fill="#111" >+IB6</text>
<text class="r" x="220.20" y="743.40" font-size="8.4" text-anchor="middle" fill="#111" >+IB6</text>
<line x1="51.20" y1="746.50" x2="121.70" y2="746.50" stroke="#333" stroke-width="0.8" />
<line x1="177.40" y1="746.50" x2="250.00" y2="746.50" stroke="#333" stroke-width="0.8" />
<text class="r" x="0.80" y="758.40" font-size="8.6" textLength="27.00" lengthAdjust="spacingAndGlyphs" fill="#111" >&#956;g/mL:</text>
<text class="r" x="35.80" y="758.40" font-size="8.4" text-anchor="middle" fill="#111" >0</text>
<text class="r" x="58.40" y="758.40" font-size="8.4" text-anchor="middle" fill="#111" >0.2</text>
<text class="r" x="85.60" y="758.40" font-size="8.4" text-anchor="middle" fill="#111" >2</text>
<text class="r" x="110.40" y="758.40" font-size="8.4" text-anchor="middle" fill="#111" >20</text>
<text class="r" x="161.70" y="758.40" font-size="8.4" text-anchor="middle" fill="#111" >0</text>
<text class="r" x="187.90" y="758.40" font-size="8.4" text-anchor="middle" fill="#111" >0.2</text>
<text class="r" x="215.60" y="758.40" font-size="8.4" text-anchor="middle" fill="#111" >2</text>
<text class="r" x="243.90" y="758.40" font-size="8.4" text-anchor="middle" fill="#111" >20</text>
<rect x="11.00" y="765.00" width="246.00" height="10.50" fill="#f6f6f6" filter="url(#b1)"/>
<rect x="20.00" y="784.50" width="106.00" height="17.50" fill="#dedede" filter="url(#b3)"/>
<path d="M101.2 770.3 L122.6 768.1" stroke="#4a4a4a" stroke-width="2.4" fill="none" filter="url(#b1)"/>
<rect x="40.00" y="792.00" width="60.00" height="9.00" fill="#d4d4d4" filter="url(#b3)"/>
<rect x="21.8" y="789.1" width="24.8" height="5.6" rx="2.8" fill="#0a0a0a" filter="url(#b1)"/>
<rect x="22.8" y="789.7" width="22.8" height="4.4" rx="2.2" fill="#000" filter="url(#b2)"/>
<rect x="48.3" y="789.4" width="23.3" height="6.0" rx="3.0" fill="#0a0a0a" filter="url(#b1)"/>
<rect x="49.3" y="790.0" width="21.3" height="4.8" rx="2.4" fill="#000" filter="url(#b2)"/>
<rect x="72.8" y="788.8" width="25.1" height="6.4" rx="3.2" fill="#0a0a0a" filter="url(#b1)" transform="rotate(3 85.3 792.0)"/>
<rect x="73.8" y="789.4" width="23.1" height="5.2" rx="2.6" fill="#000" filter="url(#b2)" transform="rotate(3 85.3 792.0)"/>
<rect x="99.8" y="789.5" width="24.2" height="5.0" rx="2.5" fill="#0a0a0a" filter="url(#b1)"/>
<rect x="100.8" y="790.1" width="22.2" height="3.8" rx="1.9" fill="#000" filter="url(#b2)"/>
<ellipse cx="110" cy="799.0" rx="4.6" ry="3" fill="#111" filter="url(#b1)"/>
<circle cx="61.2" cy="785.8" r="1.5" fill="#222" filter="url(#b2)"/>
<circle cx="77" cy="784.6" r="0.9" fill="#666" filter="url(#b2)"/>
<rect x="134.00" y="761.40" width="122.00" height="14.40" fill="#f4f4f4" filter="url(#b1)"/>
<rect x="176.50" y="782.50" width="79.00" height="20.00" fill="#ececec" filter="url(#b1)"/>
<rect x="176.50" y="791.00" width="79.00" height="11.00" fill="#d6d6d6" filter="url(#b3)"/>
<path d="M150.0 768.8 Q160.5 771.1 171.0 771.8" stroke="#707070" stroke-width="2.1" fill="none" filter="url(#b1)"/>
<path d="M177.5 765.2 Q187.5 765.8 197.5 764.8" stroke="#b0b0b0" stroke-width="1.8" fill="none" filter="url(#b1)"/>
<path d="M178.0 771.4 Q188.0 772.0 198.0 771.0" stroke="#d0d0d0" stroke-width="1.7" fill="none" filter="url(#b1)"/>
<path d="M203.7 764.8 Q214.3 765.2 225.0 764.0" stroke="#9a9a9a" stroke-width="1.9" fill="none" filter="url(#b1)"/>
<path d="M203.7 772.0 Q214.3 772.0 225.0 770.4" stroke="#707070" stroke-width="2.2" fill="none" filter="url(#b1)"/>
<path d="M230.0 763.2 Q235.5 763.8 241.0 762.8" stroke="#333" stroke-width="2.5" fill="none" filter="url(#b1)"/>
<path d="M240.0 762.8 Q246.5 763.4 253.0 762.4" stroke="#aaa" stroke-width="1.9" fill="none" filter="url(#b1)"/>
<path d="M230.0 770.6 Q241.2 770.4 252.5 768.6" stroke="#1c1c1c" stroke-width="3.1" fill="none" filter="url(#b1)"/>
<rect x="149.7" y="791.8" width="23.2" height="4.4" rx="2.2" fill="#0a0a0a" filter="url(#b1)" transform="rotate(3 161.3 794.0)"/>
<rect x="150.7" y="792.4" width="21.2" height="3.2" rx="1.6" fill="#000" filter="url(#b2)" transform="rotate(3 161.3 794.0)"/>
<rect x="177.5" y="794.2" width="22.5" height="6.0" rx="3.0" fill="#0a0a0a" filter="url(#b1)"/>
<rect x="178.5" y="794.8" width="20.5" height="4.8" rx="2.4" fill="#000" filter="url(#b2)"/>
<rect x="203.0" y="793.7" width="23.0" height="6.2" rx="3.1" fill="#0a0a0a" filter="url(#b1)"/>
<rect x="204.0" y="794.3" width="21.0" height="5.0" rx="2.5" fill="#000" filter="url(#b2)"/>
<rect x="230.0" y="792.4" width="23.7" height="5.2" rx="2.6" fill="#0a0a0a" filter="url(#b1)"/>
<rect x="231.0" y="793.0" width="21.7" height="4.0" rx="2.0" fill="#000" filter="url(#b2)"/>
<ellipse cx="240" cy="799.6" rx="3.6" ry="2.6" fill="#111" filter="url(#b1)"/>
<ellipse cx="212.6" cy="787.0" rx="1.5" ry="1.9" fill="#1a1a1a" filter="url(#b2)" transform="rotate(30 212.6 787)"/>
<text class="r" x="33.70" y="814.20" font-size="13.2" text-anchor="middle" fill="#111" >1</text>
<text class="r" x="59.80" y="814.20" font-size="13.2" text-anchor="middle" fill="#111" >2</text>
<text class="r" x="85.60" y="814.20" font-size="13.2" text-anchor="middle" fill="#111" >3</text>
<text class="r" x="109.90" y="814.20" font-size="13.2" text-anchor="middle" fill="#111" >4</text>
<text class="r" x="161.00" y="814.20" font-size="13.2" text-anchor="middle" fill="#111" >5</text>
<text class="r" x="187.30" y="814.20" font-size="13.2" text-anchor="middle" fill="#111" >6</text>
<text class="r" x="213.70" y="814.20" font-size="13.2" text-anchor="middle" fill="#111" >7</text>
<text class="r" x="239.80" y="814.20" font-size="13.2" text-anchor="middle" fill="#111" >8</text>
<text class="r" x="261.50" y="773.40" font-size="7.8" textLength="27.00" lengthAdjust="spacingAndGlyphs" fill="#111" >pPKC&#952;</text>
<text class="r" x="261.50" y="796.40" font-size="7.8" textLength="22.50" lengthAdjust="spacingAndGlyphs" fill="#111" >PKC&#952;</text>
<text class="s" x="305.40" y="712.50" font-size="17.5" font-weight="bold" textLength="12.40" lengthAdjust="spacingAndGlyphs" fill="#111" >H</text>
<line x1="350.50" y1="708.00" x2="350.50" y2="817.30" stroke="#222" stroke-width="1" />
<line x1="349.80" y1="816.50" x2="513.30" y2="816.50" stroke="#222" stroke-width="1" />
<line x1="346.80" y1="816.50" x2="350.30" y2="816.50" stroke="#222" stroke-width="1" />
<text class="s" x="346.30" y="819.80" font-size="8.4" text-anchor="end" font-weight="bold" fill="#111" >0</text>
<line x1="346.80" y1="789.50" x2="350.30" y2="789.50" stroke="#222" stroke-width="1" />
<text class="s" x="346.30" y="792.68" font-size="8.4" text-anchor="end" font-weight="bold" fill="#111" >10</text>
<line x1="346.80" y1="762.50" x2="350.30" y2="762.50" stroke="#222" stroke-width="1" />
<text class="s" x="346.30" y="765.56" font-size="8.4" text-anchor="end" font-weight="bold" fill="#111" >20</text>
<line x1="346.80" y1="735.50" x2="350.30" y2="735.50" stroke="#222" stroke-width="1" />
<text class="s" x="346.30" y="738.44" font-size="8.4" text-anchor="end" font-weight="bold" fill="#111" >30</text>
<line x1="346.80" y1="708.50" x2="350.30" y2="708.50" stroke="#222" stroke-width="1" />
<text class="s" x="346.30" y="711.32" font-size="8.4" text-anchor="end" font-weight="bold" fill="#111" >40</text>
<text class="s" x="331.90" y="762.60" font-size="8.7" text-anchor="middle" font-weight="bold" transform="rotate(-90 331.90 762.60)" textLength="105.00" lengthAdjust="spacingAndGlyphs" fill="#111" >pPKC&#952;/PKC&#952; Ratio x100</text>
<rect x="354.50" y="807.50" width="6.00" height="9.00" fill="#fff" stroke="#111" stroke-width="1" />
<rect x="363.00" y="746.29" width="6.10" height="70.51" fill="#000" />
<rect x="394.50" y="806.50" width="6.00" height="10.00" fill="#fff" stroke="#111" stroke-width="1" />
<rect x="403.60" y="794.02" width="6.10" height="22.78" fill="#000" />
<rect x="435.50" y="807.50" width="6.00" height="9.00" fill="#fff" stroke="#111" stroke-width="1" />
<rect x="444.00" y="768.26" width="6.10" height="48.54" fill="#000" />
<rect x="475.50" y="752.50" width="6.00" height="64.00" fill="#fff" stroke="#111" stroke-width="1" />
<rect x="484.40" y="711.57" width="6.10" height="105.23" fill="#000" />
<text class="s" x="293.90" y="833.80" font-size="10.2" textLength="56.50" lengthAdjust="spacingAndGlyphs" fill="#111" >IB6 (&#956;g/mL):</text>
<text class="s" x="363.90" y="834.00" font-size="10.2" text-anchor="middle" fill="#111" >0</text>
<text class="s" x="404.80" y="834.00" font-size="10.2" text-anchor="middle" fill="#111" >0.2</text>
<text class="s" x="444.60" y="834.00" font-size="10.2" text-anchor="middle" fill="#111" >2</text>
<text class="s" x="483.70" y="834.00" font-size="10.2" text-anchor="middle" fill="#111" >20</text>
<rect x="406.50" y="711.50" width="15.00" height="6.00" fill="#fff" stroke="#111" stroke-width="0.9" />
<rect x="406.00" y="723.70" width="16.40" height="6.20" fill="#000" />
<text class="s" x="424.40" y="718.00" font-size="8.4" textLength="15.40" lengthAdjust="spacingAndGlyphs" fill="#111" >-HA</text>
<text class="s" x="424.40" y="730.20" font-size="8.4" textLength="17.00" lengthAdjust="spacingAndGlyphs" fill="#111" >+HA</text>
</svg>
</body></html>
